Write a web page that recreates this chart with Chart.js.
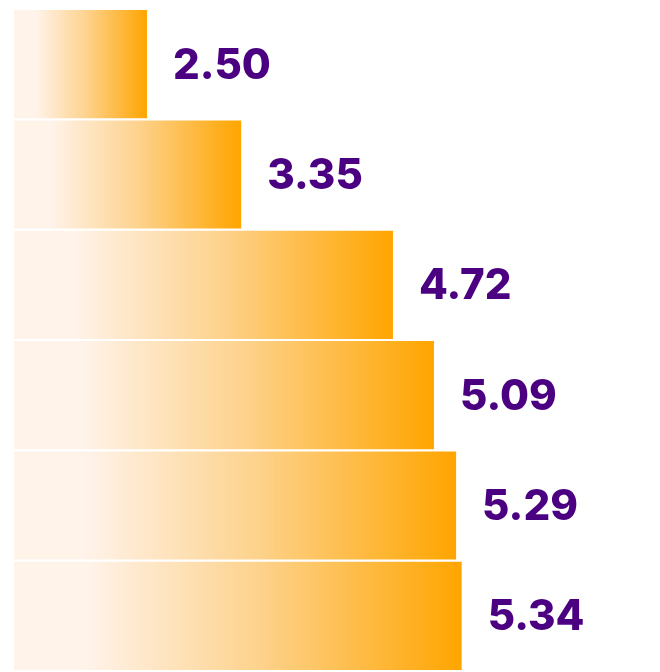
<!DOCTYPE html>
<html>
<head>
<meta charset="utf-8">
<script src="https://cdn.jsdelivr.net/npm/chart.js@4/dist/chart.umd.min.js"></script>
<style>
  html, body { margin: 0; padding: 0; background: #ffffff; }
  #wrap { width: 660px; height: 672px; position: relative; }
</style>
</head>
<body>
<div id="wrap"><canvas id="c"></canvas></div>
<script>
// Categories (rows, top to bottom) and their values
const categories = ['1', '2', '3', '4', '5', '6'];
const values = [2.50, 3.35, 4.72, 5.09, 5.29, 5.34];
// Value axis range
const axisMin = 1.3;
const axisMax = 7.13;

const PALE = '#fff3ea';
const ORANGE = '#ffa500';
const LABEL_COLOR = '#4b0082';

// Per-bar horizontal gradient: pale at the base, full orange at the tip
function barGradient(ctx) {
  const chart = ctx.chart;
  const xScale = chart.scales.x;
  if (!xScale || ctx.type !== 'data') return ORANGE;
  const x0 = xScale.getPixelForValue(axisMin);
  const x1 = xScale.getPixelForValue(ctx.raw);
  if (!isFinite(x0) || !isFinite(x1) || x1 <= x0) return ORANGE;
  const g = chart.ctx.createLinearGradient(x0, 0, x1, 0);
  g.addColorStop(0, PALE);
  g.addColorStop(0.16, PALE);
  g.addColorStop(0.55, '#fdd28c');
  g.addColorStop(1, ORANGE);
  return g;
}

// Value labels drawn just past the end of each bar
const valueLabels = {
  id: 'valueLabels',
  afterDatasetsDraw(chart) {
    const c = chart.ctx;
    const meta = chart.getDatasetMeta(0);
    c.save();
    c.font = '800 42px Inter, "DejaVu Sans", sans-serif';
    c.fillStyle = LABEL_COLOR;
    c.textAlign = 'left';
    c.textBaseline = 'middle';
    meta.data.forEach((bar, i) => {
      c.fillText(values[i].toFixed(2), bar.x + 26, bar.y + 2);
    });
    c.restore();
  }
};

new Chart(document.getElementById('c'), {
  type: 'bar',
  data: {
    labels: categories,
    datasets: [{
      data: values,
      backgroundColor: barGradient,
      borderWidth: 0,
      borderSkipped: false,
      barPercentage: 0.98,
      categoryPercentage: 1.0
    }]
  },
  options: {
    indexAxis: 'y',
    responsive: true,
    maintainAspectRatio: false,
    animation: false,
    layout: { padding: { left: 14, right: 0, top: 9, bottom: 1 } },
    plugins: {
      legend: { display: false },
      tooltip: { enabled: false }
    },
    scales: {
      x: { display: false, min: axisMin, max: axisMax },
      y: { display: false }
    }
  },
  plugins: [valueLabels]
});
</script>
</body>
</html>
